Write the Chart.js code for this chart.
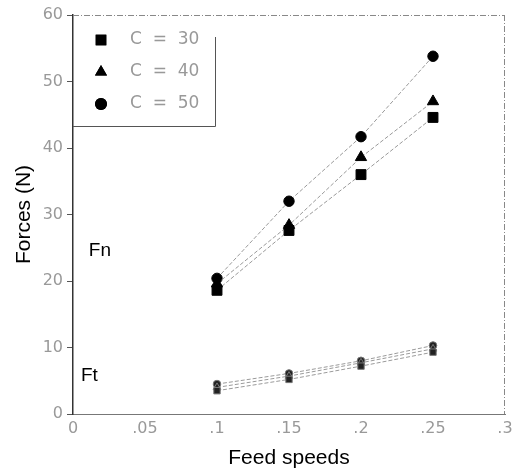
<!DOCTYPE html>
<html>
<head>
<meta charset="utf-8">
<script src="https://cdn.jsdelivr.net/npm/chart.js@4.4.0/dist/chart.umd.min.js"></script>
<style>
  html, body { margin: 0; padding: 0; background: #fff; }
  #wrap { width: 529px; height: 473px; }
</style>
</head>
<body>
<div id="wrap"><canvas id="chart"></canvas></div>
<script>
// feed speeds
var speeds = [0.1, 0.15, 0.2, 0.25];
// normal force Fn for each C
var fn30 = [18.6, 27.6, 36.0, 44.6];
var fn40 = [19.6, 28.4, 38.6, 47.0];
var fn50 = [20.4, 32.0, 41.7, 53.8];
// tangential force Ft for each C
var ft30 = [3.5, 5.2, 7.2, 9.3];
var ft40 = [4.0, 5.7, 7.7, 9.8];
var ft50 = [4.5, 6.1, 8.0, 10.3];
var legendLabels = ["C  =  30", "C  =  40", "C  =  50"];
var xTicks = [0, 0.05, 0.1, 0.15, 0.2, 0.25, 0.3];
var xTickText = ["0", ".05", ".1", ".15", ".2", ".25", ".3"];

function pts(arr) {
  return speeds.map(function (s, i) { return { x: s, y: arr[i] }; });
}

function series(arr, shape, r) {
  return {
    data: pts(arr),
    showLine: true,
    borderColor: "#9a9a9a",
    borderWidth: 1,
    borderDash: [4, 2],
    pointStyle: shape,
    pointRadius: r,
    pointBackgroundColor: "#000",
    pointBorderColor: "#000",
    pointBorderWidth: 1
  };
}

var shapes = ["rect", "triangle", "circle"];

// legend box + Fn/Ft labels + top/right frame
var extras = {
  id: "extras",
  afterDraw: function (chart) {
    var ctx = chart.ctx;
    var a = chart.chartArea;
    var xs = chart.scales.x, ys = chart.scales.y;
    ctx.save();
    // top and right frame lines
    ctx.strokeStyle = "#888";
    ctx.lineWidth = 1;
    ctx.setLineDash([6, 2, 1, 2]);
    ctx.beginPath();
    ctx.moveTo(a.left, a.top + 0.5);
    ctx.lineTo(a.right, a.top + 0.5);
    ctx.moveTo(a.right - 0.5, a.top);
    ctx.lineTo(a.right - 0.5, a.bottom);
    ctx.stroke();
    ctx.setLineDash([]);
    // legend box
    var bx = a.left, by = a.top, bw = 142, bh = 111;
    ctx.strokeStyle = "#555";
    ctx.beginPath();
    ctx.moveTo(bx + bw + 0.5, by + 22);
    ctx.lineTo(bx + bw + 0.5, by + bh + 0.5);
    ctx.lineTo(bx, by + bh + 0.5);
    ctx.stroke();
    ctx.font = "17px 'DejaVu Sans'";
    ctx.textBaseline = "middle";
    var rs = [7.5, 7, 6];
    for (var i = 0; i < 3; i++) {
      var cy = by + 25 + i * 32;
      ctx.fillStyle = "#000";
      Chart.helpers.drawPoint(ctx, { pointStyle: shapes[i], radius: rs[i], borderWidth: 0 }, bx + 28, cy);
      ctx.fill();
      ctx.fillStyle = "#999";
      ctx.fillText(legendLabels[i], bx + 57, cy);
    }
    // curve labels
    ctx.fillStyle = "#000";
    ctx.font = "19px 'Liberation Sans'";
    ctx.fillText("Fn", xs.getPixelForValue(0.011), ys.getPixelForValue(24.5));
    ctx.fillText("Ft", xs.getPixelForValue(0.0055), ys.getPixelForValue(5.8));
    ctx.restore();
  }
};

var datasets = [
  series(fn30, "rect", 7),
  series(fn40, "triangle", 6.5),
  series(fn50, "circle", 5.2),
  series(ft30, "rect", 4.5),
  series(ft40, "triangle", 4.5),
  series(ft50, "circle", 3.8)
];
datasets.slice(3).forEach(function (d) {
  d.pointBackgroundColor = "#222";
  d.pointBorderColor = "#777";
});

new Chart(document.getElementById("chart"), {
  type: "scatter",
  data: { datasets: datasets },
  plugins: [extras],
  options: {
    responsive: true,
    maintainAspectRatio: false,
    animation: false,
    layout: { padding: { top: 15, right: 24, left: 0, bottom: 0 } },
    plugins: { legend: { display: false }, tooltip: { enabled: false } },
    scales: {
      x: {
        type: "linear",
        min: 0, max: 0.3,
        afterBuildTicks: function (s) { s.ticks = xTicks.map(function (v) { return { value: v }; }); },
        afterFit: function (s) { s.height = 59; },
        ticks: {
          color: "#999",
          font: { size: 16, family: "'DejaVu Sans'" },
          padding: 5,
          callback: function (v, i) { return xTickText[i]; }
        },
        grid: { drawOnChartArea: false, drawTicks: false },
        border: { color: "#777", width: 1, dash: [10, 2] },
        title: {
          display: true, text: "Feed speeds", color: "#000",
          font: { size: 21, family: "'Liberation Sans'" }, padding: { top: 0, bottom: 2 }
        }
      },
      y: {
        min: 0, max: 60,
        afterFit: function (s) { s.width = 73; },
        ticks: {
          stepSize: 10, color: "#999",
          font: { size: 16, family: "'DejaVu Sans'" },
          padding: 4
        },
        grid: { drawOnChartArea: false, drawTicks: true, tickLength: 6, color: "#555" },
        border: { color: "#333", width: 1.5 },
        title: {
          display: true, text: "Forces (N)", color: "#000",
          font: { size: 21, family: "'Liberation Sans'" }, padding: { top: 12, bottom: 0 }
        }
      }
    }
  }
});
</script>
</body>
</html>
